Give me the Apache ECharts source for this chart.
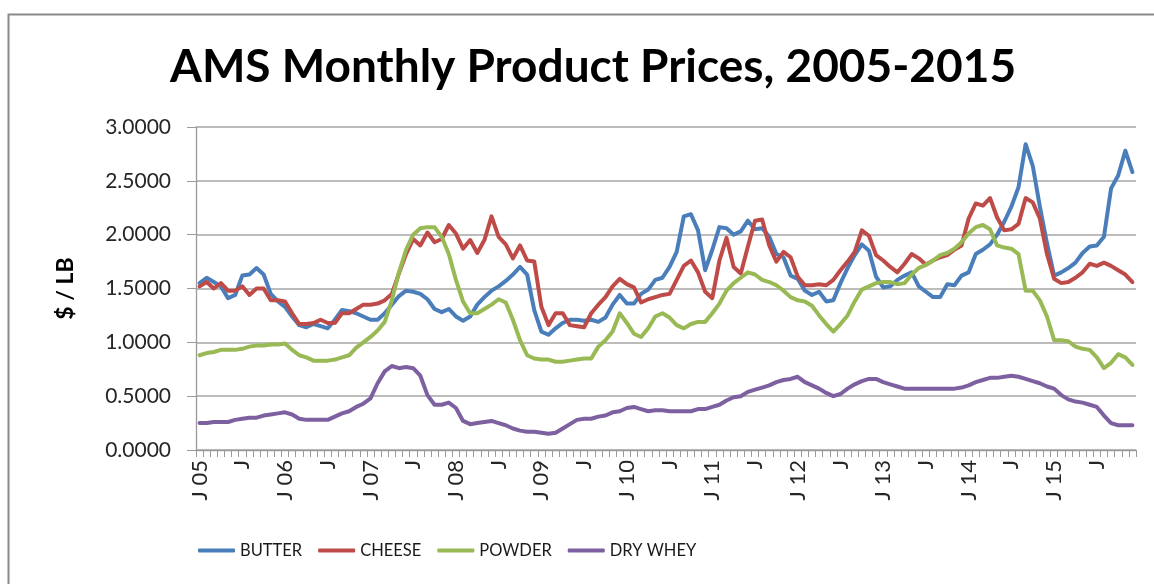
<!DOCTYPE html>
<html>
<head>
<meta charset="utf-8">
<script src="https://cdn.jsdelivr.net/npm/echarts@6/dist/echarts.min.js"></script>
<style>
  html, body { margin: 0; padding: 0; background: #ffffff; }
  #chart { width: 1154px; height: 584px; }
</style>
</head>
<body>
<div id="chart"></div>
<script>
// Month labels, Jan 2005 .. Dec 2015 (132 months)
const monthLetters = ['J','F','M','A','M','J','J','A','S','O','N','D'];
const years = ['05','06','07','08','09','10','11','12','13','14','15'];

const butter = [
  1.55,1.60,1.56,1.52,1.41,1.44,1.62,1.63,1.69,1.63,1.45,1.38,
  1.33,1.24,1.16,1.14,1.17,1.15,1.13,1.21,1.30,1.29,1.27,1.24,
  1.21,1.21,1.27,1.35,1.43,1.48,1.47,1.45,1.40,1.31,1.28,1.31,
  1.24,1.20,1.24,1.35,1.42,1.48,1.52,1.57,1.63,1.70,1.63,1.30,
  1.10,1.07,1.13,1.18,1.21,1.21,1.20,1.21,1.19,1.23,1.35,1.44,
  1.36,1.36,1.45,1.49,1.58,1.60,1.70,1.84,2.17,2.19,2.04,1.67,
  1.86,2.07,2.06,2.00,2.03,2.13,2.05,2.06,1.98,1.82,1.79,1.62,
  1.59,1.48,1.44,1.47,1.38,1.39,1.55,1.69,1.81,1.91,1.85,1.61,
  1.51,1.52,1.58,1.62,1.65,1.52,1.47,1.42,1.42,1.54,1.53,1.62,
  1.65,1.82,1.86,1.91,2.00,2.12,2.26,2.44,2.84,2.64,2.26,1.92,
  1.62,1.65,1.69,1.74,1.83,1.89,1.90,1.98,2.43,2.55,2.78,2.58
];

const cheese = [
  1.52,1.56,1.50,1.55,1.48,1.48,1.52,1.44,1.50,1.50,1.39,1.39,
  1.38,1.27,1.17,1.17,1.18,1.21,1.18,1.18,1.27,1.27,1.31,1.35,
  1.35,1.36,1.39,1.45,1.64,1.82,1.96,1.90,2.02,1.93,1.96,2.09,
  2.01,1.87,1.95,1.83,1.95,2.17,1.98,1.91,1.78,1.90,1.76,1.75,
  1.33,1.16,1.27,1.27,1.16,1.15,1.14,1.27,1.35,1.42,1.52,1.59,
  1.54,1.51,1.37,1.40,1.42,1.44,1.45,1.58,1.71,1.76,1.65,1.47,
  1.41,1.76,1.97,1.70,1.64,1.89,2.13,2.14,1.90,1.75,1.84,1.79,
  1.61,1.53,1.53,1.54,1.53,1.58,1.67,1.75,1.84,2.04,1.99,1.81,
  1.76,1.70,1.65,1.73,1.82,1.78,1.72,1.76,1.79,1.81,1.86,1.90,
  2.15,2.29,2.27,2.34,2.16,2.04,2.05,2.10,2.34,2.30,2.15,1.82,
  1.59,1.55,1.56,1.60,1.65,1.73,1.71,1.74,1.71,1.67,1.63,1.56
];

const powder = [
  0.88,0.90,0.91,0.93,0.93,0.93,0.94,0.96,0.97,0.97,0.98,0.98,
  0.99,0.93,0.88,0.86,0.83,0.83,0.83,0.84,0.86,0.88,0.95,1.00,
  1.05,1.11,1.19,1.39,1.65,1.86,2.00,2.06,2.07,2.07,1.98,1.82,
  1.58,1.38,1.27,1.27,1.31,1.35,1.40,1.37,1.21,1.02,0.88,0.85,
  0.84,0.84,0.82,0.82,0.83,0.84,0.85,0.85,0.96,1.02,1.10,1.27,
  1.18,1.08,1.05,1.13,1.24,1.27,1.23,1.16,1.13,1.17,1.19,1.19,
  1.27,1.36,1.48,1.55,1.60,1.65,1.63,1.58,1.56,1.53,1.48,1.42,
  1.39,1.38,1.34,1.25,1.17,1.10,1.17,1.25,1.38,1.49,1.52,1.55,
  1.56,1.56,1.54,1.55,1.63,1.69,1.72,1.76,1.81,1.83,1.87,1.93,
  2.01,2.07,2.09,2.05,1.90,1.88,1.87,1.82,1.48,1.48,1.39,1.24,
  1.02,1.02,1.01,0.96,0.94,0.93,0.86,0.76,0.81,0.89,0.86,0.79
];

const dryWhey = [
  0.25,0.25,0.26,0.26,0.26,0.28,0.29,0.30,0.30,0.32,0.33,0.34,
  0.35,0.33,0.29,0.28,0.28,0.28,0.28,0.31,0.34,0.36,0.40,0.43,
  0.48,0.62,0.73,0.78,0.76,0.77,0.76,0.69,0.51,0.42,0.42,0.44,
  0.39,0.27,0.24,0.25,0.26,0.27,0.25,0.23,0.20,0.18,0.17,0.17,
  0.16,0.15,0.16,0.20,0.24,0.28,0.29,0.29,0.31,0.32,0.35,0.36,
  0.39,0.40,0.38,0.36,0.37,0.37,0.36,0.36,0.36,0.36,0.38,0.38,
  0.40,0.42,0.46,0.49,0.50,0.54,0.56,0.58,0.60,0.63,0.65,0.66,
  0.68,0.63,0.60,0.57,0.53,0.50,0.52,0.57,0.61,0.64,0.66,0.66,
  0.63,0.61,0.59,0.57,0.57,0.57,0.57,0.57,0.57,0.57,0.57,0.58,
  0.60,0.63,0.65,0.67,0.67,0.68,0.69,0.68,0.66,0.64,0.62,0.59,
  0.57,0.51,0.47,0.45,0.44,0.42,0.40,0.32,0.25,0.23,0.23,0.23
];

const seriesNames = ['BUTTER','CHEESE','POWDER','DRY WHEY'];
const seriesColors = ['#4A7EBB','#BE4B48','#98B954','#7D60A0'];

const categories = [];
years.forEach(function (y) {
  monthLetters.forEach(function (m, k) {
    categories.push(k === 0 ? 'J ' + y : m);
  });
});

const chart = echarts.init(document.getElementById('chart'), null, { renderer: 'canvas' });

const allData = [butter, cheese, powder, dryWhey];

chart.setOption({
  animation: false,
  backgroundColor: '#ffffff',
  graphic: [{
    type: 'rect',
    shape: { x: 8.5, y: 14.5, width: 1300, height: 700 },
    style: { fill: 'none', stroke: '#8a8a8a', lineWidth: 2 },
    z: -1
  }],
  title: {
    text: 'AMS Monthly Product Prices, 2005-2015',
    left: 588,
    textAlign: 'center',
    top: 39,
    textStyle: { fontFamily: 'Lato', fontWeight: 'bold', fontSize: 46, color: '#000000' }
  },
  legend: {
    left: 198,
    top: 542,
    padding: 0,
    itemWidth: 37,
    itemHeight: 4,
    itemGap: 16,
    icon: 'roundRect',
    textStyle: { fontFamily: 'Lato', fontSize: 16.5, color: '#1a1a1a' },
    data: seriesNames
  },
  grid: { left: 196, right: 18, top: 127, bottom: 134, containLabel: false },
  xAxis: {
    type: 'category',
    data: categories,
    boundaryGap: true,
    axisLine: { show: true, lineStyle: { color: '#9a9a9a', width: 1.3 } },
    axisTick: { show: true, interval: 0, length: 7, lineStyle: { color: '#9a9a9a' } },
    axisLabel: {
      interval: 5,
      rotate: 90,
      margin: 10,
      fontFamily: 'Lato',
      fontSize: 22,
      color: '#262626'
    },
    splitLine: { show: false }
  },
  yAxis: {
    type: 'value',
    min: 0,
    max: 3,
    interval: 0.5,
    name: '$ / LB',
    nameLocation: 'middle',
    nameGap: 119,
    nameRotate: 90,
    nameTextStyle: { fontFamily: 'Lato', fontWeight: 'bold', fontSize: 23, color: '#000000' },
    axisLine: { show: true, lineStyle: { color: '#9a9a9a', width: 1.3 } },
    axisTick: { show: true, length: 9, lineStyle: { color: '#9a9a9a' } },
    axisLabel: {
      margin: 25,
      fontFamily: 'Lato',
      fontSize: 21,
      color: '#262626',
      formatter: function (v) { return v.toFixed(4); }
    },
    splitLine: { show: true, lineStyle: { color: '#a6a6a6', width: 1.5 } }
  },
  series: seriesNames.map(function (name, idx) {
    return {
      name: name,
      type: 'line',
      data: allData[idx],
      showSymbol: false,
      symbol: 'none',
      smooth: false,
      color: seriesColors[idx],
      lineStyle: { width: 4, color: seriesColors[idx], cap: 'round', join: 'round' },
      itemStyle: { color: seriesColors[idx] }
    };
  })
});
</script>
</body>
</html>
